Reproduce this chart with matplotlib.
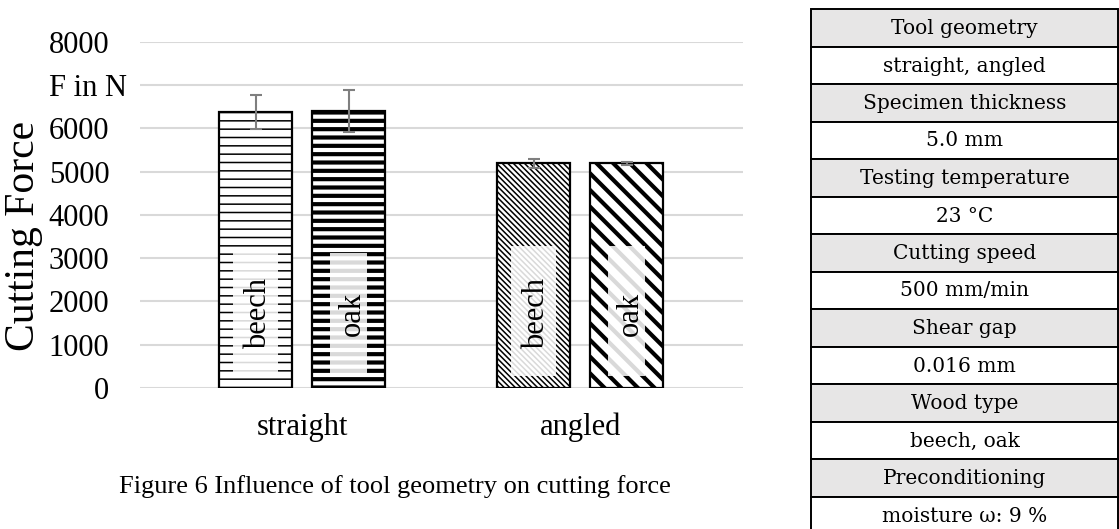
import matplotlib
matplotlib.use("Agg")
import matplotlib.pyplot as plt
from matplotlib.patches import Rectangle
from matplotlib.transforms import ScaledTranslation

# ---------------- data ----------------
categories = ["straight", "angled"]
species = ["beech", "oak"]
force_mean = {"beech": [6380, 5190], "oak": [6400, 5190]}
force_err = {"beech": [400, 100], "oak": [480, 40]}
yticks = [0, 1000, 2000, 3000, 4000, 5000, 6000, 7000, 8000]
ytick_labels = ["0", "1000", "2000", "3000", "4000", "5000", "6000", "F in N", "8000"]
ylabel = "Cutting Force"
caption = "Figure 6 Influence of tool geometry on cutting force"
table_rows = ["Tool geometry", "straight, angled",
              "Specimen thickness", "5.0 mm",
              "Testing temperature", "23 °C",
              "Cutting speed", "500 mm/min",
              "Shear gap", "0.016 mm",
              "Wood type", "beech, oak",
              "Preconditioning", "moisture ω: 9 %"]

# ---------------- styles ----------------
SERIF = ["Liberation Serif", "DejaVu Serif"]
TABLE_FONT = ["DejaVu Serif"]
plt.rcParams["font.family"] = SERIF
W, H = 1119, 529
fig = plt.figure(figsize=(W / 100, H / 100), dpi=100)

ax = fig.add_axes([140 / W, (H - 388) / H, 603 / W, (388 - 41.7) / H])
ax.set_xlim(-0.583, 1.586)
ax.set_ylim(0, 8000)

bar_w = 0.263
offsets = {"beech": -0.1675, "oak": 0.1675}
hatches = {("beech", 0): "--", ("oak", 0): "--",
           ("beech", 1): "\\" * 6, ("oak", 1): "\\" * 2}
hatch_lw = {"beech": 1.1, "oak": 3.0}
label_box_top = [3120, 3280]
label_box_bottom = 280
label_center = 1720
inset = {"beech": 0.05, "oak": 0.065}


def set_hlw(patch, lw):
    try:
        patch.set_hatch_linewidth(lw)
    except AttributeError:
        patch._hatch_linewidth = lw


for sp in species:
    xs = [i + offsets[sp] for i in range(len(categories))]
    for i, x in enumerate(xs):
        val = force_mean[sp][i]
        with plt.rc_context({"hatch.linewidth": hatch_lw[sp]}):
            bars = ax.bar(x, val, width=bar_w, facecolor="white",
                          edgecolor="black", linewidth=1.6,
                          hatch=hatches[(sp, i)], zorder=3)
        for b in bars:
            set_hlw(b, hatch_lw[sp])
        # lighter label box inside the bar
        with plt.rc_context({"hatch.linewidth": hatch_lw[sp]}):
            box = Rectangle((x - bar_w / 2 + inset[sp], label_box_bottom),
                            bar_w - 2 * inset[sp],
                            label_box_top[i] - label_box_bottom,
                            facecolor="white", edgecolor="#d9d9d9",
                            linewidth=0, hatch=hatches[(sp, i)], zorder=4)
        set_hlw(box, hatch_lw[sp])
        ax.add_patch(box)
        ax.text(x + 0.012, label_center, sp, rotation=90, ha="center",
                va="center", fontsize=22, zorder=5)
    ax.errorbar(xs, force_mean[sp], yerr=force_err[sp], fmt="none",
                ecolor="#7f7f7f", elinewidth=1.5, capsize=4.5, capthick=1.5,
                zorder=6)

ax.set_yticks(yticks)
ax.set_yticklabels(ytick_labels)
ax.set_xticks(range(len(categories)))
ax.set_xticklabels(categories)
ax.tick_params(axis="both", length=0, labelsize=22)
ax.tick_params(axis="y", pad=22)
ax.tick_params(axis="x", pad=18)
ax.grid(axis="y", color="#d9d9d9", linewidth=1.5, zorder=0)
ax.set_axisbelow(True)
for s in ax.spines.values():
    s.set_visible(False)
ax.set_ylabel(ylabel, fontsize=30)
ax.yaxis.label.set_va("center")
ax.yaxis.set_label_coords(-0.192, 0.44)

# shift the "F in N" label right, as in the reference
for lab in ax.get_yticklabels():
    if lab.get_text() == "F in N":
        lab.set_transform(lab.get_transform() +
                          ScaledTranslation(18 / 100, 0, fig.dpi_scale_trans))

fig.text(395 / W, 1 - 487 / H, caption, ha="center", va="center", fontsize=19)

# ---------------- table ----------------
row_h = 37.5
top = 9
tx0, tx1 = 811, 1118
tax = fig.add_axes([tx0 / W, (H - (top + row_h * len(table_rows))) / H,
                    (tx1 - tx0) / W, row_h * len(table_rows) / H])
tax.set_xlim(0, 1)
tax.set_ylim(len(table_rows), 0)
tax.axis("off")
for r, txt in enumerate(table_rows):
    fc = "#e7e6e6" if r % 2 == 0 else "white"
    tax.add_patch(Rectangle((0, r), 1, 1, facecolor=fc, edgecolor="black",
                            linewidth=1.4, clip_on=False))
    tax.text(0.5, r + 0.52, txt, ha="center", va="center", fontsize=14.5,
             family=TABLE_FONT, clip_on=False)

fig.savefig("out.png", dpi=100)
